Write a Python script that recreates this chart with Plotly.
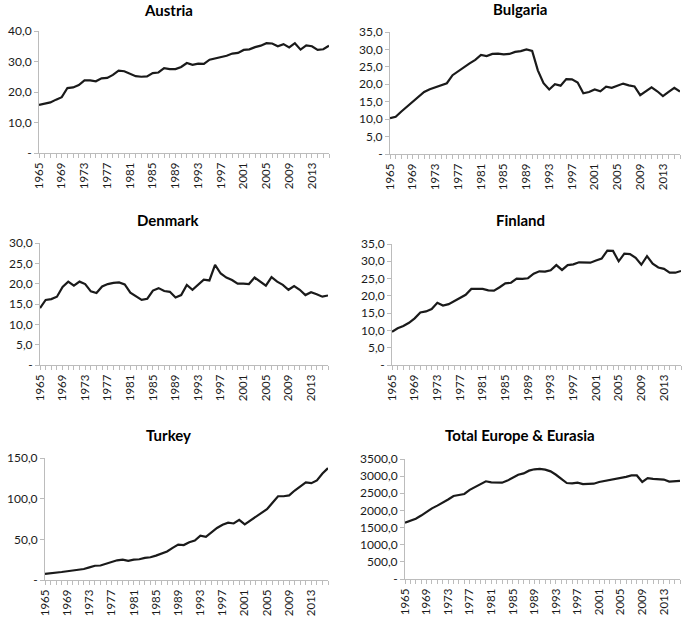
import plotly.graph_objects as go

years = list(range(1965, 2017))

austria = [15.8, 16.3, 16.6, 17.5, 18.3, 21.3, 21.5, 22.3, 23.8, 23.8,
           23.5, 24.5, 24.6, 25.6, 27.0, 26.8, 26.0, 25.2, 25.0, 25.1,
           26.2, 26.4, 27.8, 27.5, 27.5, 28.2, 29.5, 28.9, 29.3, 29.2,
           30.6, 31.0, 31.4, 31.9, 32.6, 32.8, 33.8, 34.0, 34.7, 35.2,
           36.0, 35.9, 35.0, 35.7, 34.6, 36.0, 33.9, 35.3, 35.0, 33.8,
           34.0, 35.2]

bulgaria = [10.3, 10.7, 12.2, 13.6, 14.8, 16.2, 17.8, 18.6, 19.2, 19.8,
            20.3, 22.6, 23.8, 25.0, 26.0, 27.0, 28.4, 28.1, 28.7, 28.8,
            28.6, 28.7, 29.3, 29.5, 30.0, 29.6, 24.0, 20.3, 18.5, 20.0,
            19.6, 21.5, 21.4, 20.5, 17.4, 17.8, 18.5, 18.0, 19.3, 19.0,
            19.6, 20.2, 19.7, 19.4, 16.9, 18.0, 19.1, 18.0, 16.6, 17.8,
            19.0, 17.9]

denmark = [14.0, 16.0, 16.2, 16.8, 19.2, 20.5, 19.5, 20.5, 19.9, 18.1,
           17.7, 19.3, 19.9, 20.2, 20.3, 19.8, 17.8, 16.8, 16.0, 16.3,
           18.3, 18.9, 18.2, 18.0, 16.6, 17.2, 19.7, 18.5, 19.7, 21.0,
           20.8, 24.6, 22.5, 21.5, 20.9, 20.0, 20.0, 19.9, 21.5, 20.4,
           19.5, 21.6, 20.5, 19.7, 18.5, 19.4, 18.5, 17.2, 17.9, 17.4,
           16.8, 17.1]

finland = [9.6, 10.6, 11.3, 12.2, 13.5, 15.2, 15.5, 16.2, 18.0, 17.2,
           17.6, 18.5, 19.6, 20.3, 22.0, 22.1, 22.0, 21.6, 21.5, 22.5,
           23.6, 23.8, 25.0, 24.9, 25.1, 26.4, 27.1, 27.0, 27.4, 28.9,
           27.5, 28.9, 29.1, 29.7, 29.6, 29.6, 30.2, 30.8, 33.1, 33.0,
           30.0, 32.2, 32.1, 31.0, 29.0, 31.5, 29.3, 28.2, 27.8, 26.7,
           26.7, 27.2]

turkey = [7.5, 8.0, 8.7, 9.8, 10.8, 11.5, 12.2, 13.5, 15.5, 17.5,
          17.8, 20.0, 22.0, 24.2, 25.0, 23.5, 25.0, 25.5, 27.2, 28.0,
          30.0, 33.0, 35.0, 39.5, 43.5, 43.0, 46.5, 48.5, 54.5, 53.0,
          59.0, 64.0, 68.0, 70.5, 69.5, 74.0, 68.5, 73.0, 78.0, 83.0,
          87.0, 95.0, 103.0, 103.0, 104.0, 110.0, 115.0, 120.0, 119.0, 122.5,
          131.0, 137.5]

total = [1640, 1700, 1760, 1850, 1960, 2060, 2140, 2220, 2320, 2420,
         2440, 2480, 2600, 2680, 2760, 2850, 2820, 2810, 2810, 2870,
         2950, 3040, 3080, 3160, 3200, 3210, 3190, 3140, 3040, 2920,
         2800, 2790, 2810, 2770, 2770, 2780, 2830, 2860, 2870, 2920,
         2950, 2980, 3020, 3020, 2830, 2940, 2920, 2920, 2900, 2840,
         2850, 2860]

titles = ["Austria", "Bulgaria", "Denmark", "Finland", "Turkey", "Total Europe & Eurasia"]
series = [austria, bulgaria, denmark, finland, turkey, total]
y_ticks = [
    [0, 10, 20, 30, 40],
    [0, 5, 10, 15, 20, 25, 30, 35],
    [0, 5, 10, 15, 20, 25, 30],
    [0, 5, 10, 15, 20, 25, 30, 35],
    [0, 50, 100, 150],
    [0, 500, 1000, 1500, 2000, 2500, 3000, 3500],
]
x_ticks = list(range(1965, 2014, 4))

W, H = 685, 617
# pixel boxes: (left, right, top, bottom)
boxes = [
    (39, 329, 31, 153),
    (390, 680, 32, 154),
    (40, 328, 243, 365),
    (392, 681, 244, 365),
    (45, 328, 458, 580),
    (405, 680, 459, 579),
]
title_pos = [(168, 10), (520, 9), (168, 220), (520, 220), (168, 435), (520, 435)]

FONT = "Lato"
TXT = "#1a1a1a"
AX = "#bcbcbc"

fig = go.Figure()
layout = dict(
    width=W, height=H, autosize=False,
    margin=dict(l=0, r=0, t=0, b=0, autoexpand=False),
    paper_bgcolor="white", plot_bgcolor="white",
    showlegend=False,
    font=dict(family=FONT, color=TXT, size=11),
)
annotations = []


def fmt(v):
    if v == 0:
        return "-"
    return f"{v:.1f}".replace(".", ",")


for i, (t, s, yt, b, tp) in enumerate(zip(titles, series, y_ticks, boxes, title_pos)):
    n = "" if i == 0 else str(i + 1)
    xa, ya = "x" + n, "y" + n
    fig.add_trace(go.Scatter(x=years, y=s, mode="lines", xaxis=xa, yaxis=ya,
                             line=dict(color="#1a1a1a", width=2.2),
                             cliponaxis=False))
    l, r, top, bot = b
    layout["xaxis" + n] = dict(
        domain=[l / W, r / W], anchor=ya, automargin=False,
        range=[1965, 2016], tickmode="array", tickvals=x_ticks,
        ticktext=[str(v) for v in x_ticks], tickangle=-90,
        showline=True, linecolor=AX, linewidth=1,
        ticks="outside", ticklen=4, tickcolor=AX,
        minor=dict(tickmode="linear", tick0=1965, dtick=1, ticks="outside",
                   ticklen=4, tickcolor=AX, showgrid=False),
        showgrid=False, zeroline=False,
        tickfont=dict(family=FONT, size=11.5, color=TXT),
    )
    layout["yaxis" + n] = dict(
        domain=[1 - bot / H, 1 - top / H], anchor=xa, automargin=False,
        range=[0, yt[-1]], tickmode="array", tickvals=yt,
        ticktext=[fmt(v) for v in yt],
        showline=True, linecolor=AX, linewidth=1,
        ticks="outside", ticklen=4, tickcolor=AX,
        showgrid=False, zeroline=False,
        tickfont=dict(family=FONT, size=12, color=TXT),
    )
    annotations.append(dict(
        text="<b>" + t + "</b>", x=tp[0] / W, y=1 - tp[1] / H,
        xref="paper", yref="paper",
        xanchor="center", yanchor="middle", showarrow=False,
        font=dict(family=FONT, size=15, color="#000000"),
    ))

layout["annotations"] = annotations
fig.update_layout(**layout)
fig.write_html("out.html",
               config={"displayModeBar": False},
               post_script="document.body.style.margin='0';document.body.style.overflow='hidden';")
